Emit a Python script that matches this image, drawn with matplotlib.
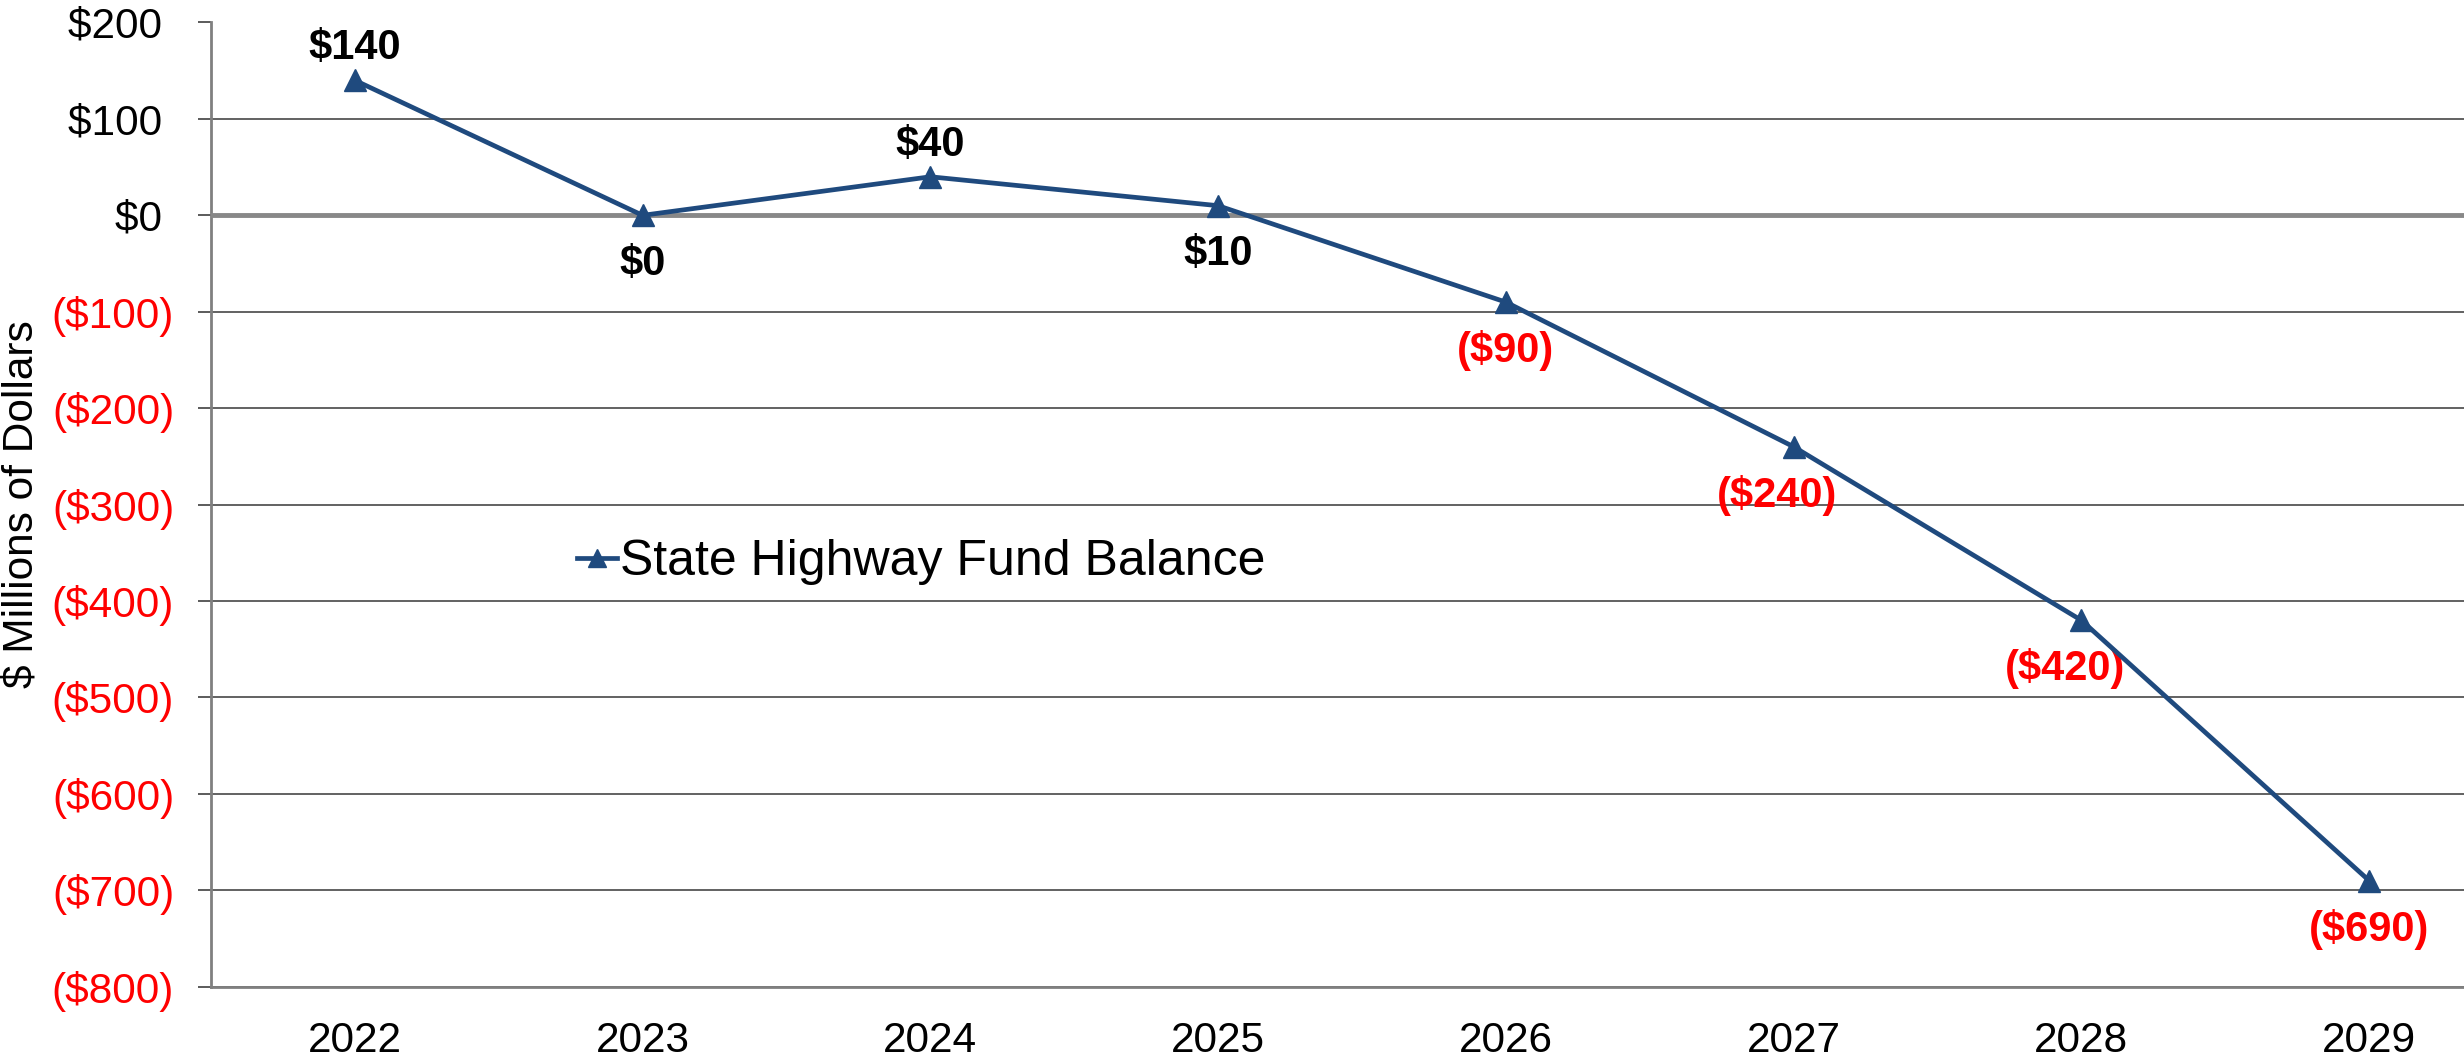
import matplotlib.pyplot as plt
from matplotlib.ticker import FuncFormatter

plt.rcParams['font.family'] = ['Liberation Sans', 'DejaVu Sans']

# datos del grafico
anios = ["2022", "2023", "2024", "2025", "2026", "2027", "2028", "2029"]
saldo = [140, 0, 40, 10, -90, -240, -420, -690]
etiquetas = ["$140", "$0", "$40", "$10", "($90)", "($240)", "($420)", "($690)"]
arriba = [True, False, True, False, False, False, False, False]
ticks_y = [200, 100, 0, -100, -200, -300, -400, -500, -600, -700, -800]

azul = "#1F4A7E"
rojo = "#FF0000"


def formato_dinero(v, pos=None):
    # los positivos dejan el hueco del parentesis, como en Excel
    if v < 0:
        return "(${:,.0f})".format(-v)
    return "${:,.0f} ".format(v)


fig = plt.figure(figsize=(24.64, 10.6), dpi=100)
ax = fig.add_axes([211 / 2464, 1 - 986.7 / 1060, 2302 / 2464, (986.7 - 22.5) / 1060])

x = list(range(len(anios)))
linea, = ax.plot(x, saldo, color=azul, linewidth=3.4, marker="^", markersize=16,
                 label="State Highway Fund Balance", zorder=5)

# etiquetas de datos
dx = [0, 0, 0, 0, 0, -12, -12, 0]
for i, (v, t) in enumerate(zip(saldo, etiquetas)):
    color = rojo if v < 0 else "black"
    if arriba[i]:
        dy = 23
    else:
        dy = -35
    ax.annotate(t, (i, v), xytext=(dx[i], dy), textcoords="offset points",
                ha="center", va="center", fontsize=30, fontweight="bold", color=color)

ax.set_xlim(-0.5, len(anios) - 0.5)
ax.set_ylim(-800, 200)
ax.set_yticks(ticks_y)
ax.yaxis.set_major_formatter(FuncFormatter(formato_dinero))
ax.set_xticks(x)
ax.set_xticklabels(anios)

ax.tick_params(axis="y", labelsize=30.5, length=9.5, width=1.2, color="#404040", pad=17)
ax.tick_params(axis="x", labelsize=30.5, length=0, pad=25)
for lab, v in zip(ax.get_yticklabels(), ticks_y):
    lab.set_color(rojo if v < 0 else "black")

ax.grid(axis="y", color="#555555", linewidth=1.3)
ax.axhline(0, color="#888888", linewidth=3.5, zorder=3)
ax.set_axisbelow(True)

for s in ["top", "right"]:
    ax.spines[s].set_visible(False)
ax.spines["left"].set_color("#808080")
ax.spines["left"].set_linewidth(2)
ax.spines["bottom"].set_color("#808080")
ax.spines["bottom"].set_linewidth(2)

ax.set_ylabel("$ Millions of Dollars", fontsize=30.5)
ax.yaxis.set_label_coords(-0.0735, 0.5)

ax.legend(handles=[linea], loc="center left", bbox_to_anchor=(0.159, 0.44),
          frameon=False, fontsize=36, handlelength=0.8, handletextpad=0.05,
          markerscale=0.85, borderaxespad=0, borderpad=0)

fig.savefig("out.png", dpi=100)
